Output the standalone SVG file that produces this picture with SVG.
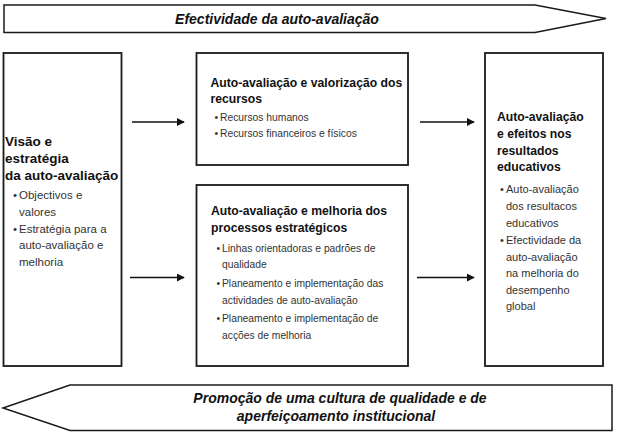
<svg xmlns="http://www.w3.org/2000/svg" width="619" height="432" viewBox="0 0 619 432">
<style>
.box{fill:#fff;stroke:#1a1a1a;stroke-width:1.8}
.band{fill:#fff;stroke:#1a1a1a;stroke-width:1.5;stroke-linejoin:miter}
.band-t{font-family:"Liberation Sans",Arial,sans-serif;font-weight:bold;font-style:italic;font-size:14px;fill:#111;text-anchor:middle}
.ttl{font-family:"Liberation Sans",Arial,sans-serif;font-weight:bold;fill:#111}
.bl{font-family:"Liberation Sans",Arial,sans-serif;fill:#333}
.conn{stroke:#111;stroke-width:1.6;fill:none}
</style>
<defs>
<marker id="ah" viewBox="0 0 10 10" refX="9" refY="5" markerWidth="5" markerHeight="5" orient="auto" markerUnits="strokeWidth">
<path d="M0,0 L10,5 L0,10 z" fill="#111"/>
</marker>
</defs>
<rect width="619" height="432" fill="#fff"/>
<g id="band-top">
<polygon class="band" points="4,5 535,5 606,18.5 535,32.5 4,32.5"/>
<text class="band-t" x="277" y="23.5">Efectividade da auto-avaliação</text>
</g>
<g id="band-bottom">
<polygon class="band" points="612,385 70,385 3,408 70,430.5 612,430.5"/>
<text class="band-t" x="340" y="403">Promoção de uma cultura de qualidade e de</text>
<text class="band-t" x="336" y="421">aperfeiçoamento institucional</text>
</g>
<g id="node-visao">
<rect class="box" x="3.5" y="53" width="118" height="313"/>
<text class="ttl" font-size="13.5">
<tspan x="5" y="146">Visão e</tspan>
<tspan x="5" y="162.8">estratégia</tspan>
<tspan x="5" y="179.5">da auto-avaliação</tspan>
</text>
<text class="bl" font-size="11.5">
<tspan x="13" y="199">•</tspan><tspan x="19" y="199">Objectivos e</tspan>
<tspan x="19" y="215.5">valores</tspan>
<tspan x="13" y="232.5">•</tspan><tspan x="19" y="232.5">Estratégia para a</tspan>
<tspan x="19" y="249">auto-avaliação e</tspan>
<tspan x="19" y="265.5">melhoria</tspan>
</text>
</g>
<g id="node-recursos">
<rect class="box" x="196.5" y="53" width="211.5" height="112"/>
<text class="ttl" font-size="12.2">
<tspan x="210.5" y="86.5">Auto-avaliação e valorização dos</tspan>
<tspan x="210.5" y="103">recursos</tspan>
</text>
<text class="bl" font-size="10.3">
<tspan x="214.5" y="120.5">•</tspan><tspan x="220" y="120.5">Recursos humanos</tspan>
<tspan x="214.5" y="136.5">•</tspan><tspan x="220" y="136.5">Recursos financeiros e físicos</tspan>
</text>
</g>
<g id="node-processos">
<rect class="box" x="196.5" y="185" width="211.5" height="181"/>
<text class="ttl" font-size="12.2">
<tspan x="211" y="215">Auto-avaliação e melhoria dos</tspan>
<tspan x="211" y="231.5">processos estratégicos</tspan>
</text>
<text class="bl" font-size="10.3">
<tspan x="216.5" y="251.5">•</tspan><tspan x="222" y="251.5">Linhas orientadoras e padrões de</tspan>
<tspan x="222" y="268">qualidade</tspan>
<tspan x="216.5" y="287">•</tspan><tspan x="222" y="287">Planeamento e implementação das</tspan>
<tspan x="222" y="304">actividades de auto-avaliação</tspan>
<tspan x="216.5" y="322">•</tspan><tspan x="222" y="322">Planeamento e implementação de</tspan>
<tspan x="222" y="338.5">acções de melhoria</tspan>
</text>
</g>
<g id="node-resultados">
<rect class="box" x="485" y="53" width="118" height="313"/>
<text class="ttl" font-size="12.2">
<tspan x="497" y="121">Auto-avaliação</tspan>
<tspan x="497" y="137.8">e efeitos nos</tspan>
<tspan x="497" y="154.5">resultados</tspan>
<tspan x="497" y="171">educativos</tspan>
</text>
<text class="bl" font-size="11">
<tspan x="500" y="193">•</tspan><tspan x="506" y="193">Auto-avaliação</tspan>
<tspan x="506" y="210">dos resultacos</tspan>
<tspan x="506" y="227">educativos</tspan>
<tspan x="500" y="244">•</tspan><tspan x="506" y="244">Efectividade da</tspan>
<tspan x="506" y="260.5">auto-avaliação</tspan>
<tspan x="506" y="277">na melhoria do</tspan>
<tspan x="506" y="293.5">desempenho</tspan>
<tspan x="506" y="310">global</tspan>
</text>
</g>
<g id="connectors">
<line class="conn" x1="132" y1="122" x2="184" y2="122" marker-end="url(#ah)"/>
<line class="conn" x1="130" y1="277.5" x2="184" y2="277.5" marker-end="url(#ah)"/>
<line class="conn" x1="420" y1="122" x2="474" y2="122" marker-end="url(#ah)"/>
<line class="conn" x1="417" y1="277.5" x2="474" y2="277.5" marker-end="url(#ah)"/>
</g>
</svg>
